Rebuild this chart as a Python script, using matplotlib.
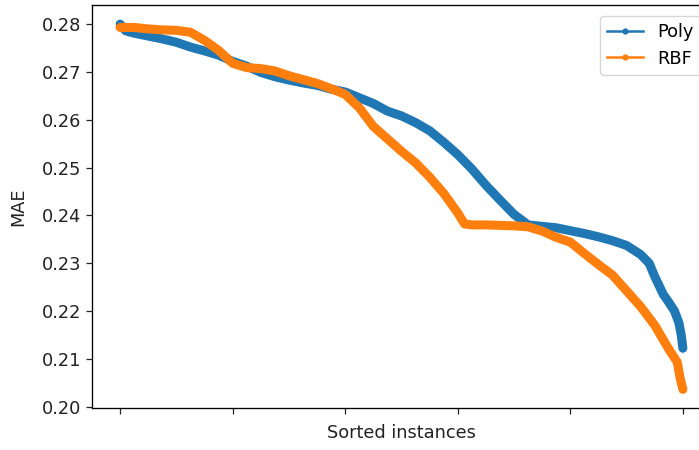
import matplotlib
matplotlib.use("Agg")
import matplotlib.pyplot as plt
from matplotlib.lines import Line2D

# sorted instance index and MAE
poly_idx = [0, 10, 25, 50, 75, 100, 125, 150, 175, 200, 225, 250, 275, 300, 325,
            350, 375, 400, 425, 450, 475, 500, 525, 550, 575, 600, 625, 650, 675,
            700, 725, 750, 775, 800, 825, 850, 875, 900, 925, 940, 950, 965, 975,
            985, 993, 997, 1000]
poly_mae = [0.2800, 0.2786, 0.2781, 0.2775, 0.2769, 0.2762, 0.2752, 0.2744, 0.2735,
            0.2722, 0.2712, 0.2699, 0.2690, 0.2683, 0.2677, 0.2672, 0.2664, 0.2658,
            0.2646, 0.2634, 0.2618, 0.2608, 0.2594, 0.2577, 0.2553, 0.2527, 0.2497,
            0.2463, 0.2432, 0.2402, 0.2380, 0.2377, 0.2374, 0.2368, 0.2362, 0.2355,
            0.2347, 0.2337, 0.2318, 0.2300, 0.2272, 0.2235, 0.2218, 0.2200, 0.2175,
            0.2150, 0.2122]

rbf_idx = [0, 25, 50, 75, 100, 125, 150, 175, 200, 225, 250, 275, 300, 325, 350,
           375, 400, 425, 450, 475, 500, 525, 550, 575, 600, 612, 625, 650, 675,
           700, 725, 750, 775, 800, 825, 850, 875, 900, 925, 950, 975, 990, 995, 1000]
rbf_mae = [0.2793, 0.2793, 0.2790, 0.2788, 0.2787, 0.2783, 0.2766, 0.2745, 0.2718,
           0.2709, 0.2707, 0.2702, 0.2692, 0.2684, 0.2676, 0.2665, 0.2653, 0.2625,
           0.2586, 0.2560, 0.2534, 0.2510, 0.2480, 0.2446, 0.2405, 0.2382, 0.2380,
           0.2380, 0.2379, 0.2378, 0.2376, 0.2367, 0.2354, 0.2344, 0.2320, 0.2297,
           0.2275, 0.2242, 0.2209, 0.2170, 0.2120, 0.2093, 0.2060, 0.2036]

fs = 12.8

fig = plt.figure(figsize=(6.99, 4.5), dpi=100)
ax = fig.add_axes([0.1316, 0.0933, 0.8856, 0.8956])

# thick band like the dense markers in the original
ax.plot(poly_idx, poly_mae, color="C0", lw=6.5, solid_capstyle="round", solid_joinstyle="round")
ax.plot(rbf_idx, rbf_mae, color="C1", lw=6.5, solid_capstyle="round", solid_joinstyle="round")

ax.set_xlim(-50, 1050)
ax.set_ylim(0.1997, 0.2840)
ax.set_xticks([0, 200, 400, 600, 800, 1000])
ax.set_xticklabels([])
ax.set_yticks([0.20, 0.21, 0.22, 0.23, 0.24, 0.25, 0.26, 0.27, 0.28])
ax.set_yticklabels(["%.2f" % v for v in ax.get_yticks()])
ax.tick_params(labelsize=fs, length=4, width=0.9, colors="#222222")
for s in ax.spines.values():
    s.set_linewidth(0.95)

ax.set_xlabel("Sorted instances", fontsize=fs, color="#222222")
ax.set_ylabel("MAE", fontsize=fs, color="#222222", labelpad=11)

handles = [Line2D([], [], color="C0", marker=".", lw=1.8, markersize=7, label="Poly"),
           Line2D([], [], color="C1", marker=".", lw=1.8, markersize=7, label="RBF")]
ax.legend(handles=handles, loc="upper right", fontsize=fs, borderaxespad=0.6)

fig.savefig("out.png", dpi=100)
